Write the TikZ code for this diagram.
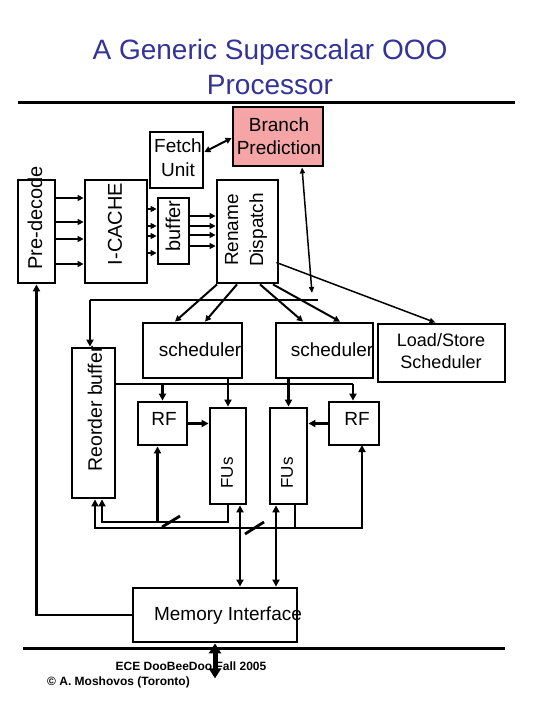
\documentclass[tikz,border=0pt]{standalone}
\usepackage{fontspec}
\setmainfont{Liberation Sans}
\usetikzlibrary{arrows.meta}
\definecolor{brpink}{RGB}{245,165,165}
\definecolor{ttlblue}{RGB}{51,51,153}

\begin{document}
\begin{tikzpicture}[x=1pt, y=-1pt,
  blk/.style={rectangle, draw=black, line width=2.8pt, fill=white, inner sep=0pt},
  txt/.style={inner sep=0pt, font=\fontsize{19}{23}\selectfont, align=center},
  rtxt/.style={txt, rotate=90, font=\fontsize{20}{25}\selectfont},
  arr/.style={line width=2.8pt, -{Triangle[length=7pt,width=7pt]}},
  sarr/.style={line width=2pt, -{Triangle[length=6pt,width=6pt]}},
  thin/.style={line width=1.5pt, -{Triangle[length=6pt,width=5pt]}}]
\useasboundingbox (0,0) rectangle (540,720);

% title
\node[txt, text=ttlblue, font=\fontsize{28}{35}\selectfont] (title) at (270,67) {A Generic Superscalar OOO\\Processor};
\draw[line width=3pt] (18,102) -- (515,102);
\draw[line width=3pt] (23,648) -- (505,648);

% front end
\node[blk, minimum width=37, minimum height=103] (predecode) at (36.5,231.5) {};
\node[blk, minimum width=62, minimum height=103] (icache) at (116,231.5) {};
\node[blk, minimum width=53, minimum height=56] (fetch) at (176.5,160) {};
\node[blk, fill=brpink, minimum width=90, minimum height=59] (branch) at (278,136.5) {};
\node[blk, minimum width=31, minimum height=66] (buffer) at (173.5,231) {};
\node[blk, minimum width=61, minimum height=103] (rename) at (247.5,231.5) {};

\node[rtxt] (tpre) at (35,218) {Pre-decode};
\node[rtxt] (tic) at (115,224) {I-CACHE};
\node[rtxt] (tbuf) at (173,226) {buffer};
\node[rtxt, font=\fontsize{19}{25}\selectfont] (tren) at (246,230) {Rename\\Dispatch};
\node[txt, font=\fontsize{19}{24}\selectfont] (tfetch) at (178,158) {Fetch\\Unit};
\node[txt] (tbranch) at (279,136) {Branch\\Prediction};

\foreach \y in {198,222,239,264}
  \draw[sarr] (predecode.east |- 0,\y) -- (icache.west |- 0,\y);
\foreach \y in {209,226,236,253}
  \draw[sarr] (icache.east |- 0,\y) -- (buffer.west |- 0,\y);
\foreach \y in {216,226,235,246}
  \draw[sarr] (buffer.east |- 0,\y) -- (rename.west |- 0,\y);

\draw[line width=2pt, {Triangle[length=6pt,width=6pt]}-{Triangle[length=6pt,width=6pt]}] ([yshift=8pt]fetch.east) -- ([yshift=-1.5pt]branch.west);

% schedulers
\node[blk, minimum width=99, minimum height=55] (sched1) at (192.5,350.5) {};
\node[blk, minimum width=97, minimum height=55] (sched2) at (324.5,350.5) {};
\node[blk, minimum width=127, minimum height=58] (lssched) at (441.5,353) {};
\node[txt] (tsched1) at (200,350) {scheduler};
\node[txt] (tsched2) at (332,350) {scheduler};
\node[txt, font=\fontsize{18}{22}\selectfont] (tls) at (441,351) {Load/Store\\Scheduler};

\coordinate (busL) at (90,300);
\coordinate (busR) at (318,300);
\draw[line width=2.8pt] (busL) -- (busR);
\draw[line width=1.5pt, {Triangle[length=6pt,width=5pt]}-{Triangle[length=6pt,width=5pt]}] ([xshift=24pt]branch.south) -- (312,293);
\draw[thin] ([shift={(-3pt,-31pt)}]rename.east) -- ([xshift=-6pt]lssched.north);
\draw[sarr] ([xshift=-30.5pt]rename.south) -- ([xshift=-17.5pt]sched1.north);
\draw[sarr] ([xshift=-10.5pt]rename.south) -- ([xshift=12.5pt]sched1.north);
\draw[sarr] ([xshift=12.5pt]rename.south) -- ([xshift=-21.5pt]sched2.north);
\draw[sarr] ([xshift=25.5pt]rename.south) -- ([xshift=15.5pt]sched2.north);

% back end
\node[blk, minimum width=43, minimum height=150] (rob) at (93.5,423) {};
\node[blk, minimum width=49, minimum height=43] (rf1) at (162.5,423.5) {};
\node[blk, minimum width=36, minimum height=96] (fus1) at (228,456) {};
\node[blk, minimum width=37, minimum height=96] (fus2) at (288.5,456) {};
\node[blk, minimum width=50, minimum height=43] (rf2) at (354,423.5) {};
\node[rtxt, font=\fontsize{19.5}{24}\selectfont] (trob) at (95,409) {Reorder buffer};
\node[txt] (trf1) at (164,419) {RF};
\node[txt] (trf2) at (357,419) {RF};
\node[rtxt, font=\fontsize{17}{20}\selectfont] (tfus1) at (227,473) {FUs};
\node[rtxt, font=\fontsize{17}{20}\selectfont] (tfus2) at (287,473) {FUs};

\draw[arr] (busL) -- (busL |- rob.north);
\coordinate (rfbus) at (353,384);
\draw[line width=2.8pt] (rob.east |- rfbus) -- (rfbus);
\draw[arr] (rf1.north |- rfbus) -- (rf1.north);
\draw[arr] (rfbus) -- (rfbus |- rf2.north);
\draw[arr] (sched1.south -| fus1.north) -- (fus1.north);
\draw[arr] (sched2.south -| fus2.north) -- (fus2.north);
\draw[arr] (rf1.east) -- (fus1.west |- rf1.east);
\draw[arr] (rf2.west) -- (fus2.east |- rf2.west);

% result buses
\coordinate (resA) at (102,522);
\coordinate (resB) at (95,528);
\draw[arr] (fus1.south) |- (resA) -- (resA |- rob.south);
\draw[arr] ([xshift=-5pt]rf1.south |- resA) -- ([xshift=-5pt]rf1.south);
\draw[arr] ([xshift=6.5pt]fus2.south) |- (resB) -- (resB |- rob.south);
\draw[arr] ([xshift=6.5pt]fus2.south) |- (362,528) -- (362,445);
\draw[line width=2.8pt] (162,527) -- (180,516);
\draw[line width=2.8pt] (245,534) -- (264,522);

% memory
\node[blk, minimum width=164, minimum height=54] (mem) at (215,615) {};
\node[txt] (tmem) at (228,616) {Memory Interface};
\coordinate (m1) at (240,0);
\coordinate (m2) at (276,0);
\draw[line width=2.8pt, {Triangle[length=7pt,width=7pt]}-{Triangle[length=7pt,width=7pt]}] (m1 |- fus1.south) -- (m1 |- mem.north);
\draw[line width=2.8pt, {Triangle[length=7pt,width=7pt]}-{Triangle[length=7pt,width=7pt]}] (m2 |- fus2.south) -- (m2 |- mem.north);
\draw[arr] (mem.west) -| (predecode.south);

% footer
\node[inner sep=0pt, font=\bfseries\fontsize{12}{14}\selectfont] (fcourse) at (191,666) {ECE DooBeeDoo Fall 2005};
\node[inner sep=0pt, anchor=west, font=\bfseries\fontsize{12}{14}\selectfont] (fauthor) at (47,682) {© A. Moshovos (Toronto)};
\draw[line width=5pt, {Triangle[length=10pt,width=12pt]}-{Triangle[length=10pt,width=12pt]}] (mem.south) -- ++(0,35);
\end{tikzpicture}
\end{document}
